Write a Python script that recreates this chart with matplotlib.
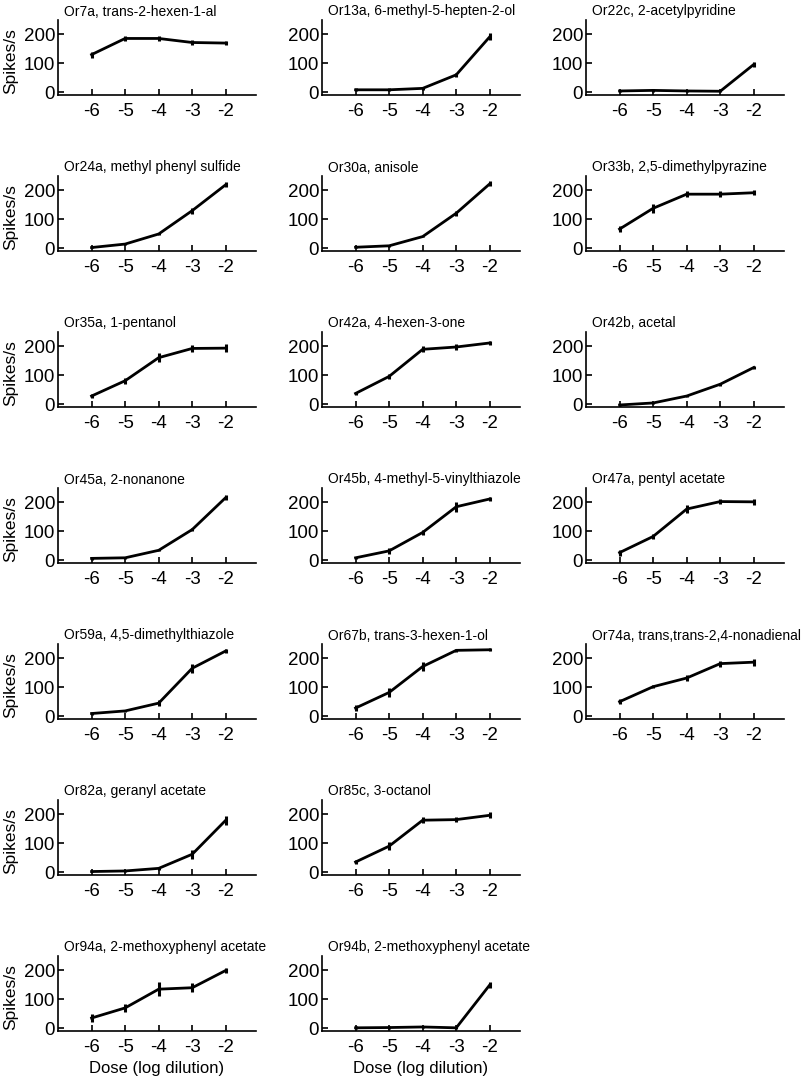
import numpy as np
import matplotlib
matplotlib.use("Agg")
import matplotlib.pyplot as plt

plt.rcParams['font.family'] = ['Liberation Sans', 'DejaVu Sans']
plt.rcParams['axes.unicode_minus'] = False

# data
doses = [-6, -5, -4, -3, -2]

titles = [
    "Or7a, trans-2-hexen-1-al", "Or13a, 6-methyl-5-hepten-2-ol", "Or22c, 2-acetylpyridine",
    "Or24a, methyl phenyl sulfide", "Or30a, anisole", "Or33b, 2,5-dimethylpyrazine",
    "Or35a, 1-pentanol", "Or42a, 4-hexen-3-one", "Or42b, acetal",
    "Or45a, 2-nonanone", "Or45b, 4-methyl-5-vinylthiazole", "Or47a, pentyl acetate",
    "Or59a, 4,5-dimethylthiazole", "Or67b, trans-3-hexen-1-ol", "Or74a, trans,trans-2,4-nonadienal",
    "Or82a, geranyl acetate", "Or85c, 3-octanol",
    "Or94a, 2-methoxyphenyl acetate", "Or94b, 2-methoxyphenyl acetate",
]

means = [
    [130, 186, 186, 172, 170],
    [8, 8, 13, 60, 192],
    [4, 6, 4, 3, 96],
    [2, 14, 49, 130, 220],
    [3, 8, 40, 121, 223],
    [66, 138, 187, 187, 192],
    [28, 81, 161, 193, 194],
    [37, 96, 190, 198, 212],
    [-3, 4, 28, 69, 127],
    [6, 8, 34, 106, 217],
    [8, 32, 96, 185, 212],
    [26, 82, 177, 203, 202],
    [9, 18, 45, 166, 226],
    [28, 82, 172, 228, 230],
    [50, 102, 132, 182, 187],
    [2, 4, 13, 62, 180],
    [35, 90, 180, 182, 197],
    [35, 70, 135, 140, 200],
    [1, 2, 4, 1, 150],
]

errors = [
    [10, 8, 8, 8, 8],
    [5, 5, 5, 6, 12],
    [4, 4, 4, 3, 8],
    [3, 4, 4, 10, 8],
    [4, 4, 3, 8, 8],
    [10, 15, 10, 10, 8],
    [8, 10, 15, 12, 15],
    [5, 10, 10, 12, 8],
    [5, 4, 4, 5, 6],
    [4, 4, 4, 6, 10],
    [4, 10, 10, 18, 8],
    [10, 10, 15, 10, 10],
    [4, 4, 10, 15, 8],
    [10, 15, 15, 5, 5],
    [8, 5, 10, 10, 12],
    [3, 3, 5, 15, 15],
    [8, 15, 10, 8, 10],
    [15, 15, 25, 15, 8],
    [5, 5, 5, 4, 10],
]

# grid slot for each panel (row, col)
slots = [(r, c) for r in range(5) for c in range(3)] + [(5, 0), (5, 1), (6, 0), (6, 1)]

W, H = 810, 1085
fig = plt.figure(figsize=(W / 100, H / 100), dpi=100)

ax_w, ax_h = 198, 75
for i, (r, c) in enumerate(slots):
    left = 58 + 264 * c
    bottom = 95 + 156 * r
    ax = fig.add_axes([left / W, 1 - bottom / H, ax_w / W, ax_h / H])

    ax.errorbar(doses, means[i], yerr=errors[i], color='k', lw=2,
                elinewidth=2.2, capsize=0)

    ax.set_xlim(-7, -1.1)
    ax.set_ylim(-10, 250)
    ax.set_xticks(doses)
    ax.set_yticks([0, 100, 200])
    ax.spines['top'].set_visible(False)
    ax.spines['right'].set_visible(False)
    ax.spines['left'].set_linewidth(1.2)
    ax.spines['bottom'].set_linewidth(1.2)
    ax.tick_params(axis='both', direction='in', length=4, width=1.2, labelsize=13.5)
    ax.tick_params(axis='x', pad=6)
    ax.tick_params(axis='y', pad=2)

    ax.text(0.03, 1.06, titles[i], transform=ax.transAxes, ha='left',
            va='baseline', fontsize=10)

    if c == 0:
        ax.set_ylabel("Spikes/s", fontsize=12.5)
        ax.yaxis.set_label_coords(-0.2, 0.45)
    if r == 6:
        ax.set_xlabel("Dose (log dilution)", fontsize=12)
        ax.xaxis.set_label_coords(0.5, -0.40)

plt.savefig('out.png', dpi=100)
